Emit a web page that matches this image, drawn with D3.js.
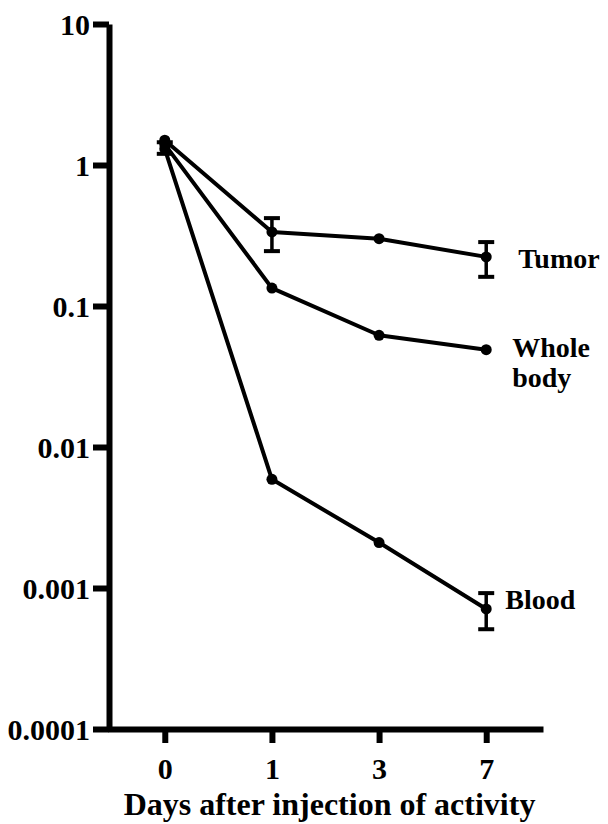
<!DOCTYPE html>
<html>
<head>
<meta charset="utf-8">
<script src="https://cdnjs.cloudflare.com/ajax/libs/d3/7.8.5/d3.min.js"></script>
<style>
	body { margin:0; background:#fff; }
</style>
</head>
<body>
<div id="chartBox"></div>
<script>
// days after injection (categorical, equally spaced)
var days = ['0', '1', '3', '7'];
var yTicks = [0.0001, 0.001, 0.01, 0.1, 1, 10];
var yTickLabels = ['0.0001', '0.001', '0.01', '0.1', '1', '10'];

var tumor = [1.5, 0.335, 0.30, 0.223];
var tumorLow = [null, 0.245, null, 0.161];
var tumorHigh = [null, 0.42, null, 0.284];

var wholeBody = [1.4, 0.134, 0.062, 0.049];

var blood = [1.3, 0.0059, 0.0021, 0.00071];
var bloodLow = [1.2, null, null, 0.00051];
var bloodHigh = [1.45, null, null, 0.00092];

var seriesNames = ['Tumor', 'Whole body', 'Blood'];

var width = 608, height = 824;
var serif = '"Liberation Serif", serif';

var svg = d3.select('#chartBox').append('svg')
	.attr('width', width)
	.attr('height', height);

var x = d3.scalePoint()
	.domain(days)
	.range([108, 543])
	.padding(0.53);

var y = d3.scaleLog()
	.domain([0.0001, 10])
	.range([729, 24]);

function serifText(sel, size) {
	sel.style('font-family', serif)
		.style('font-weight', 'bold')
		.style('font-size', size + 'px')
		.attr('fill', '#000');
}

// axes
var yAxis = svg.append('g')
	.attr('transform', 'translate(109,0)')
	.call(d3.axisLeft(y)
		.tickValues(yTicks)
		.tickFormat(function(d, i) { return yTickLabels[i]; })
		.tickSize(16)
		.tickSizeOuter(0)
		.tickPadding(3));
yAxis.select('.domain').attr('stroke', '#000').attr('stroke-width', 6);
yAxis.selectAll('.tick line').attr('stroke', '#000').attr('stroke-width', 6);
yAxis.selectAll('.tick text')
	.call(serifText, 30)
	.attr('dy', '0.34em');

var xAxis = svg.append('g')
	.attr('transform', 'translate(0,729)')
	.call(d3.axisBottom(x)
		.tickSize(14)
		.tickSizeOuter(0)
		.tickPadding(15));
xAxis.select('.domain').attr('stroke', '#000').attr('stroke-width', 6);
xAxis.selectAll('.tick line').attr('stroke', '#000').attr('stroke-width', 6);
xAxis.selectAll('.tick text')
	.call(serifText, 30);

svg.append('text')
	.text('Days after injection of activity')
	.attr('x', (x.range()[0] + x.range()[1]) / 2 + 4)
	.attr('y', 815)
	.attr('text-anchor', 'middle')
	.call(serifText, 32);

// lines + points
var line = d3.line()
	.x(function(d, i) { return x(days[i]); })
	.y(function(d) { return y(d); });

var allSeries = [tumor, wholeBody, blood];
var plot = svg.append('g');

allSeries.forEach(function(s) {
	plot.append('path')
		.datum(s)
		.attr('d', line)
		.attr('fill', 'none')
		.attr('stroke', '#000')
		.attr('stroke-width', 4)
		.attr('stroke-linejoin', 'round');
	plot.selectAll(null)
		.data(s)
		.enter()
		.append('circle')
		.attr('cx', function(d, i) { return x(days[i]); })
		.attr('cy', function(d) { return y(d); })
		.attr('r', 5.5)
		.attr('fill', '#000');
});

// error bars
function errorBars(vals, low, high) {
	var g = svg.append('g');
	vals.forEach(function(v, i) {
		if (low[i] == null) return;
		var cx = x(days[i]);
		g.append('line')
			.attr('x1', cx).attr('x2', cx)
			.attr('y1', y(high[i])).attr('y2', y(low[i]))
			.attr('stroke', '#000').attr('stroke-width', 3.5);
		[low[i], high[i]].forEach(function(c) {
			g.append('line')
				.attr('x1', cx - 8).attr('x2', cx + 8)
				.attr('y1', y(c)).attr('y2', y(c))
				.attr('stroke', '#000').attr('stroke-width', 4);
		});
	});
}
errorBars(tumor, tumorLow, tumorHigh);
errorBars(blood, bloodLow, bloodHigh);

// series labels
var lastX = x(days[days.length - 1]);
svg.append('text')
	.text(seriesNames[0])
	.attr('x', lastX + 32)
	.attr('y', y(tumor[3]) + 11)
	.call(serifText, 28);

var wb = svg.append('text')
	.attr('x', lastX + 26)
	.attr('y', y(wholeBody[3]) + 7)
	.call(serifText, 28);
wb.append('tspan').text(seriesNames[1].split(' ')[0]);
wb.append('tspan').attr('x', lastX + 26).attr('dy', 30).text(seriesNames[1].split(' ')[1]);

svg.append('text')
	.text(seriesNames[2])
	.attr('x', lastX + 19)
	.attr('y', y(blood[3]) + 0)
	.call(serifText, 28);
</script>
</body>
</html>
